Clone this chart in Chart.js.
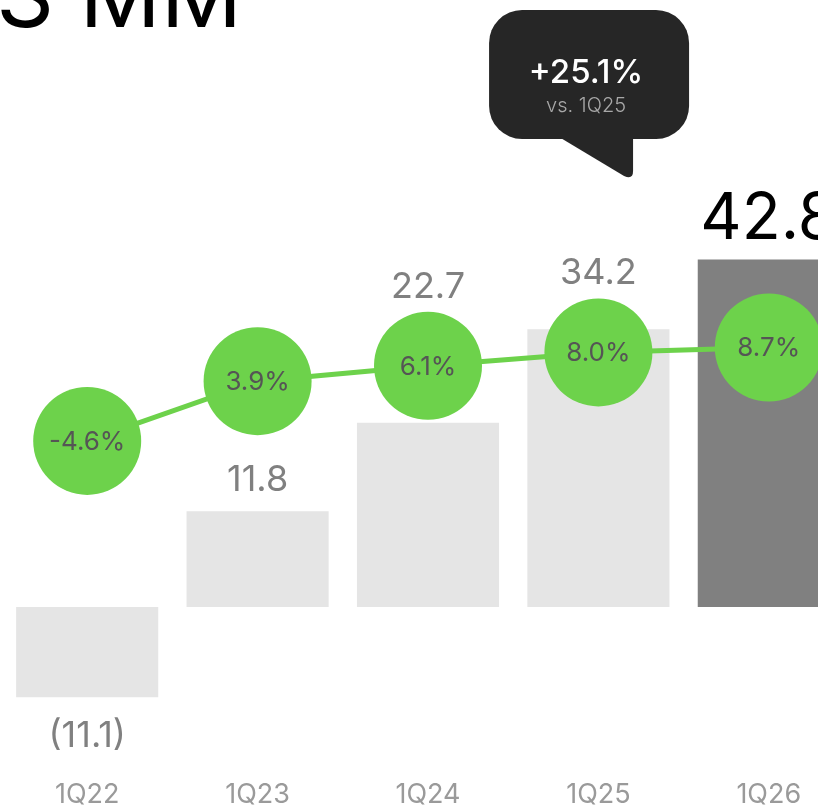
<!DOCTYPE html>
<html><head><meta charset="utf-8">
<script src="https://cdn.jsdelivr.net/npm/chart.js@4"></script>
<style>
html,body{margin:0;padding:0;overflow:hidden;background:#fff;width:818px;height:809px}
#wrap{position:relative;width:856px;height:809px}
</style></head><body><div id="wrap"><canvas id="c" width="856" height="809"></canvas></div>
<script>
// ---- data ----
const categories = ['1Q22', '1Q23', '1Q24', '1Q25', '1Q26'];
const values = [-11.1, 11.8, 22.7, 34.2, 42.8];
const margins = [-4.6, 3.9, 6.1, 8.0, 8.7];
const valueLabels = ['(11.1)', '11.8', '22.7', '34.2', '42.8'];
const marginLabels = ['-4.6%', '3.9%', '6.1%', '8.0%', '8.7%'];
const titleText = 'S MM';
const compareLabel = 'vs. 1Q25';

const growth = '+' + ((values[4] / values[3] - 1) * 100).toFixed(1) + '%';

const GREEN = '#6dd24b';
const barColors = values.map((v, i) => i === values.length - 1 ? '#808080' : '#e5e5e5');

const F = 'Inter, "DejaVu Sans", sans-serif';

const overlayPlugin = {
  id: 'overlay',
  afterDatasetsDraw(chart) {
    const ctx = chart.ctx;
    const barMeta = chart.getDatasetMeta(1);
    const lineMeta = chart.getDatasetMeta(0);
    const R = 54;
    ctx.save();
    ctx.textAlign = 'center';
    ctx.textBaseline = 'middle';
    ctx.font = '400 26px ' + F;
    ctx.fillStyle = '#555555';
    lineMeta.data.forEach((pt, i) => {
      ctx.fillText(marginLabels[i], pt.x, pt.y + 1);
    });
    ctx.textBaseline = 'alphabetic';
    barMeta.data.forEach((bar, i) => {
      const last = i === values.length - 1;
      const size = last ? 64 : 36;
      ctx.font = '400 ' + size + 'px ' + F;
      ctx.fillStyle = last ? '#000000' : '#808080';
      let y;
      if (values[i] < 0) {
        y = bar.y + 50;
      } else {
        y = bar.y - 20;
        const cy = lineMeta.data[i].y;
        const textTop = y - size * 0.75;
        if (y > cy - R && textTop < cy + R) {
          y = cy - R - 14;
        }
      }
      ctx.fillText(valueLabels[i], bar.x, y);
    });
    ctx.restore();
  },
  afterDraw(chart) {
    const ctx = chart.ctx;
    const xs = chart.scales.x;
    const top = chart.chartArea.top;
    ctx.save();
    ctx.font = '400 90px ' + F;
    ctx.fillStyle = '#000000';
    ctx.textAlign = 'right';
    ctx.textBaseline = 'alphabetic';
    ctx.fillText(titleText, 242, 27);

    const p3 = xs.getPixelForValue(3), p4 = xs.getPixelForValue(4);
    const tipX = p3 + (p4 - p3) * 0.18;
    const tipY = top + 77;
    const left = tipX - 140, right = tipX + 60;
    const bTop = top - 90, bBot = top + 39;
    ctx.fillStyle = '#262626';
    ctx.beginPath();
    ctx.roundRect(left, bTop, right - left, bBot - bTop, 33);
    ctx.fill();
    ctx.beginPath();
    ctx.moveTo(tipX - 70, bBot - 2);
    ctx.lineTo(tipX - 5, tipY - 1);
    ctx.quadraticCurveTo(tipX + 4, tipY + 3, tipX + 4, tipY - 6);
    ctx.lineTo(tipX + 4, bBot - 2);
    ctx.closePath();
    ctx.fill();
    const cx = (left + right) / 2 - 3;
    ctx.textAlign = 'center';
    ctx.fillStyle = '#ffffff';
    ctx.font = '500 33px ' + F;
    ctx.fillText(growth, cx, top - 17);
    ctx.fillStyle = '#a8a8a8';
    ctx.font = '300 20px ' + F;
    ctx.fillText(compareLabel, cx, top + 12);
    ctx.restore();
  }
};

new Chart(document.getElementById('c'), {
  data: {
    labels: categories,
    datasets: [
      {
        type: 'line',
        data: margins,
        yAxisID: 'y1',
        borderColor: GREEN,
        borderWidth: 5,
        pointRadius: 54,
        pointHoverRadius: 54,
        pointBackgroundColor: GREEN,
        pointBorderWidth: 0,
        pointHoverBorderWidth: 0,
        tension: 0,
        clip: false,
        order: 0
      },
      {
        type: 'bar',
        data: values,
        yAxisID: 'y',
        backgroundColor: barColors,
        borderWidth: 0,
        categoryPercentage: 1,
        barPercentage: 0.834,
        order: 1
      }
    ]
  },
  options: {
    responsive: false,
    animation: false,
    events: [],
    layout: { autoPadding: false, padding: { left: 2, right: 2, top: 100, bottom: 0 } },
    plugins: { legend: { display: false }, tooltip: { enabled: false }, title: { display: false } },
    scales: {
      x: {
        offset: true,
        grid: { display: false, drawTicks: false },
        border: { display: false },
        ticks: { color: '#9a9a9a', font: { family: F, size: 27, weight: '400' }, padding: 9, maxRotation: 0 },
        afterFit(scale) { scale.height = 39; }
      },
      y: { display: false, min: -20.07, max: 62.44 },
      y1: { display: false, min: -51.48, max: 43.96 }
    }
  },
  plugins: [overlayPlugin]
});
</script>
</body></html>
